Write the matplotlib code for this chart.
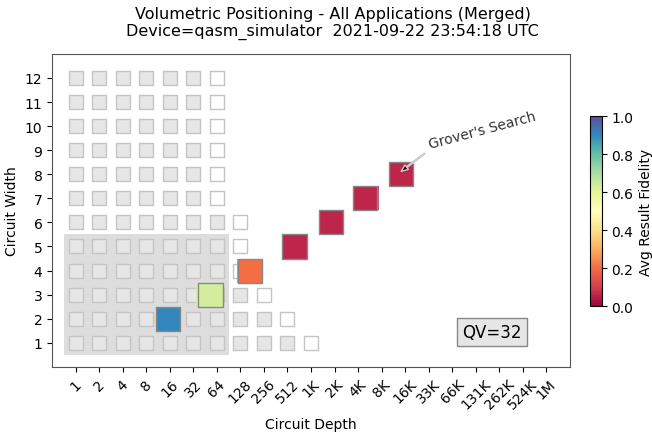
import numpy as np
import matplotlib
matplotlib.use("Agg")
import matplotlib.pyplot as plt
from matplotlib.patches import Rectangle

# depth tick labels (log2 positions 0..20)
depth_labels = ['1', '2', '4', '8', '16', '32', '64', '128', '256', '512', '1K', '2K',
                '4K', '8K', '16K', '33K', '66K', '131K', '262K', '524K', '1M']
widths_bg = [1, 2, 3, 4, 5, 6, 7, 8, 9, 10, 11, 12]
# highest log2(depth) index shaded gray for each width; next one is the empty boundary
max_gray_idx = [9, 8, 7, 6, 6, 6, 5, 5, 5, 5, 5, 5]

# application results (merged)
app_widths = [2, 3, 4, 5, 6, 7, 8]
app_depths = [15, 53, 172, 630, 1833, 5040, 14560]
app_fidelity = [0.90, 0.63, 0.20, 0.06, 0.06, 0.06, 0.06]
# secondary overlapping circuits
app2_widths = [3, 4, 5, 7]
app2_depths = [50, 165, 660, 5300]
app2_fidelity = [0.62, 0.21, 0.07, 0.06]

qv = 32
qv_width = 5
qv_depth_idx = 6

fig = plt.figure(figsize=(6.52, 4.39), dpi=100)
ax = fig.add_axes([0.08, 0.162, 0.794, 0.713])
cax = fig.add_axes([0.905, 0.30, 0.018, 0.433])

cmap = plt.get_cmap('Spectral')

# quantum volume region
ax.add_patch(Rectangle((-0.5, 0.5), qv_depth_idx + 1, qv_width, facecolor='#dddddd',
                       edgecolor='none', zorder=0))

# background volumetric grid
gx, gy, wx, wy = [], [], [], []
for w, m in zip(widths_bg, max_gray_idx):
    for d in range(m + 1):
        gx.append(d)
        gy.append(w)
    wx.append(m + 1)
    wy.append(w)
ax.scatter(gx, gy, marker='s', s=100, facecolor='#e6e6e6', edgecolor='#c4c4c4',
           linewidth=1, zorder=1)
ax.scatter(wx, wy, marker='s', s=100, facecolor='white', edgecolor='#c4c4c4',
           linewidth=1, zorder=1)

# app results
ax.scatter(np.log2(app2_depths), app2_widths, marker='s', s=300,
           c=app2_fidelity, cmap=cmap, vmin=0, vmax=1, alpha=0.8,
           edgecolor='none', zorder=2)
sc = ax.scatter(np.log2(app_depths), app_widths, marker='s', s=300,
                c=app_fidelity, cmap=cmap, vmin=0, vmax=1,
                edgecolor='#888888', linewidth=1, zorder=3)

ax.annotate("Grover's Search", xy=(np.log2(app_depths[-1]), app_widths[-1] + 0.12),
            xytext=(14.95, 8.95), rotation=15, fontsize=10, color='#333333',
            ha='left', va='bottom',
            arrowprops=dict(facecolor='black', edgecolor=(0.8, 0.8, 0.8),
                            shrink=0.0, width=0.8, headwidth=4, headlength=5),
            zorder=5)

ax.text(0.85, 0.11, f'QV={qv}', transform=ax.transAxes, fontsize=12,
        ha='center', va='center',
        bbox=dict(facecolor='#e6e6e6', edgecolor='#888888', boxstyle='square,pad=0.3'))

ax.set_xlim(-1, 21)
ax.set_ylim(0, 13)
ax.set_xticks(range(len(depth_labels)))
ax.set_xticklabels(depth_labels, rotation=45, fontsize=10)
ax.set_yticks(range(1, 13))
ax.set_yticklabels([str(i) for i in range(1, 13)], fontsize=10)
ax.set_xlabel('Circuit Depth', fontsize=10)
ax.set_ylabel('Circuit Width', fontsize=10)
for s in ax.spines.values():
    s.set_color('#555555')

cb = fig.colorbar(sc, cax=cax)
cb.set_label('Avg Result Fidelity', fontsize=10)
cb.set_ticks([0, 0.2, 0.4, 0.6, 0.8, 1.0])
cb.ax.tick_params(labelsize=10)

fig.suptitle('Volumetric Positioning - All Applications (Merged)\n'
             'Device=qasm_simulator  2021-09-22 23:54:18 UTC',
             x=0.51, y=0.985, fontsize=11.5)

fig.savefig('out.png', dpi=100)
